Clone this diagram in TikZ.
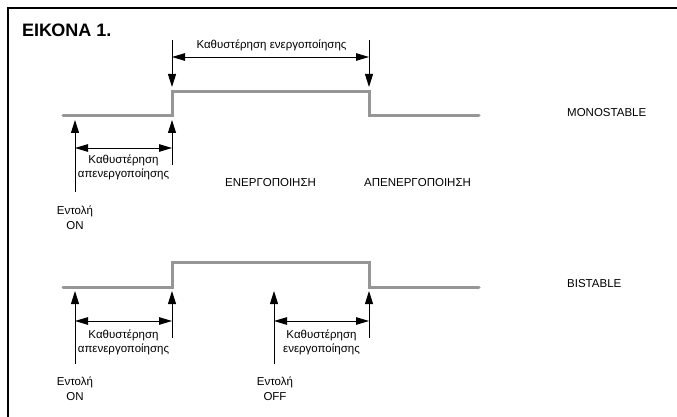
\documentclass[tikz,border=0pt]{standalone}
\usepackage{fontspec}
\setmainfont{Liberation Sans}
\usetikzlibrary{arrows.meta}
\definecolor{sig}{RGB}{150,150,150}
\begin{document}
\begin{tikzpicture}[x=1pt,y=-1pt,
  signal/.style={draw=sig, line width=3pt, line cap=round, line join=miter},
  ptr/.style={draw, line width=0.9pt, -{Triangle[length=13pt,width=8pt]}},
  dim/.style={draw, line width=0.9pt, {Triangle[length=13pt,width=7.5pt]}-{Triangle[length=13pt,width=7.5pt]}},
  lbl/.style={font=\fontsize{11.5}{14}\selectfont, inner sep=0pt, anchor=base},
  title/.style={font=\fontsize{18}{20}\selectfont\bfseries, inner sep=0pt, anchor=base west}]
\useasboundingbox (0,0) rectangle (677,417);

% frame (top and left edges)
\draw[line width=1.5pt] (8,417) -- (8,8) -- (677,8);
\node[title] (ttl) at (22,37) {ΕΙΚΟΝΑ 1.};

% ---------- MONOSTABLE ----------
\coordinate (m0) at (63,116);
\coordinate (m1) at (172,116);
\coordinate (m2) at (172,92);
\coordinate (m3) at (369,92);
\coordinate (m4) at (369,116);
\coordinate (m5) at (479,116);
\draw[signal] (m0) -- (m1) -- (m2) -- (m3) -- (m4) -- (m5);

% activation delay above the pulse
\coordinate (ta) at (172,40);
\coordinate (tae) at (172,87);
\coordinate (tb) at (369,40);
\coordinate (tbe) at (369,87);
\draw[ptr] (ta) -- (tae);
\draw[ptr] (tb) -- (tbe);
\coordinate (da) at (172,57);
\coordinate (db) at (369,57);
\draw[dim] (da) -- (db);
\node[lbl] (tdl) at (271.5,49) {Καθυστέρηση ενεργοποίησης};

% command and deactivation delay below
\coordinate (ma) at (75,192);
\coordinate (mae) at (75,120);
\coordinate (mb) at (172,165);
\coordinate (mbe) at (172,120);
\draw[ptr] (ma) -- (mae);
\draw[ptr] (mb) -- (mbe);
\coordinate (mda) at (75,148);
\coordinate (mdb) at (172,148);
\draw[dim] (mda) -- (mdb);
\node[lbl] (md1) at (123.5,163) {Καθυστέρηση};
\node[lbl] (md2) at (123.5,177) {απενεργοποίησης};
\node[lbl] (mc1) at (75,214) {Εντολή};
\node[lbl] (mc2) at (75,229) {ON};

\node[lbl, anchor=base west] (mono) at (567,117) {MONOSTABLE};
\node[lbl, anchor=base west] (en) at (225,186) {ΕΝΕΡΓΟΠΟΙΗΣΗ};
\node[lbl, anchor=base west] (apen) at (364,186) {ΑΠΕΝΕΡΓΟΠΟΙΗΣΗ};

% ---------- BISTABLE ----------
\coordinate (b0) at (63,287);
\coordinate (b1) at (172,287);
\coordinate (b2) at (172,262);
\coordinate (b3) at (369,262);
\coordinate (b4) at (369,287);
\coordinate (b5) at (479,287);
\draw[signal] (b0) -- (b1) -- (b2) -- (b3) -- (b4) -- (b5);

\coordinate (ba) at (75,364);
\coordinate (bae) at (75,291);
\coordinate (bb) at (172,338);
\coordinate (bbe) at (172,291);
\coordinate (bc) at (274,364);
\coordinate (bce) at (274,291);
\coordinate (bd) at (369,338);
\coordinate (bde) at (369,291);
\draw[ptr] (ba) -- (bae);
\draw[ptr] (bb) -- (bbe);
\draw[ptr] (bc) -- (bce);
\draw[ptr] (bd) -- (bde);
\coordinate (bda) at (75,321);
\coordinate (bdb) at (172,321);
\coordinate (bdc) at (274,321);
\coordinate (bdd) at (369,321);
\draw[dim] (bda) -- (bdb);
\draw[dim] (bdc) -- (bdd);

\node[lbl] (bl1) at (123.5,338) {Καθυστέρηση};
\node[lbl] (bl2) at (123.5,352) {απενεργοποίησης};
\node[lbl] (br1) at (321.5,338) {Καθυστέρηση};
\node[lbl] (br2) at (321.5,352) {ενεργοποίησης};
\node[lbl] (bc1) at (75,385) {Εντολή};
\node[lbl] (bc2) at (75,400) {ON};
\node[lbl] (bc3) at (275,385) {Εντολή};
\node[lbl] (bc4) at (275,400) {OFF};

\node[lbl, anchor=base west] (bist) at (567,287) {BISTABLE};
\end{tikzpicture}
\end{document}
